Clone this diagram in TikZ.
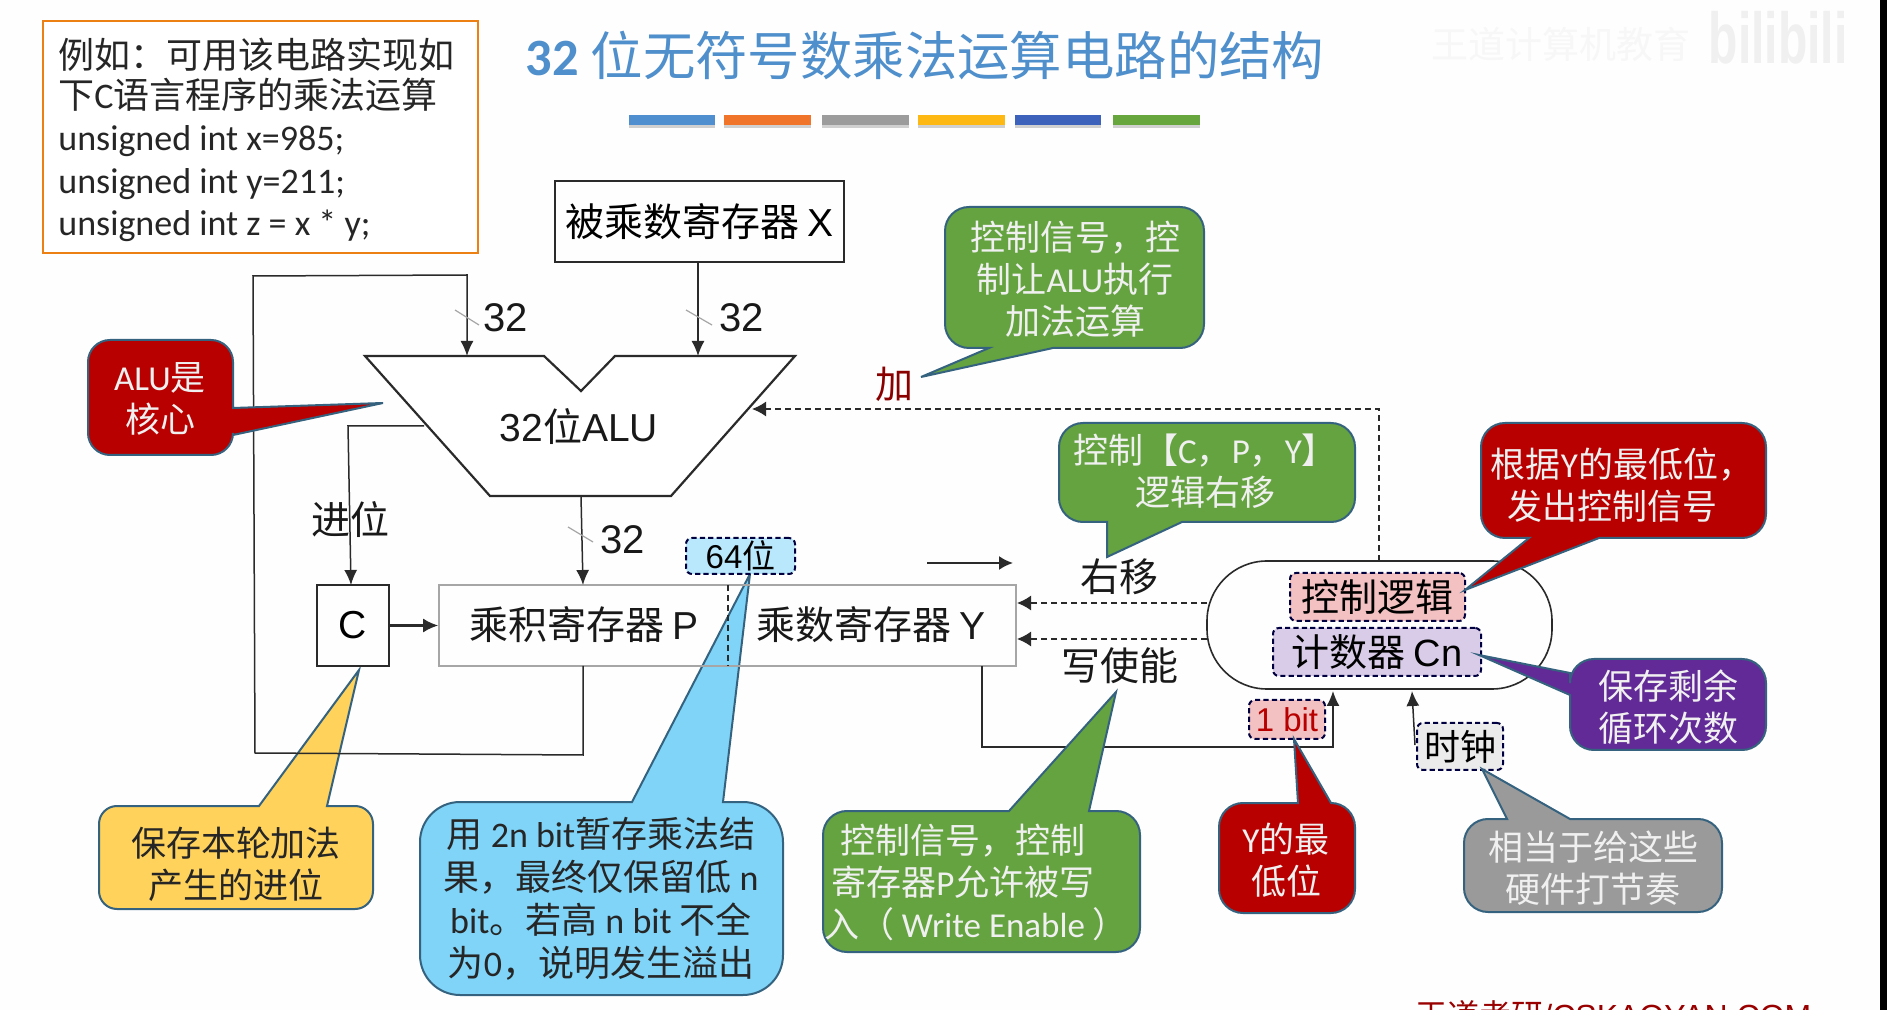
\documentclass[tikz,border=0pt]{standalone}
\usepackage{fontspec}
\setmainfont{Noto Sans CJK SC}
\newfontfamily\latf{Carlito}
\newfontfamily\arif{Liberation Sans}
\newcommand\la[1]{{\latf #1}}
\newcommand\ar[1]{{\arif #1}}
\usetikzlibrary{arrows.meta}
\definecolor{bg}{HTML}{FEFEFE}
\definecolor{tit}{HTML}{4F8FCB}
\definecolor{wine}{HTML}{B80000}
\definecolor{cgreen}{HTML}{64A33F}
\definecolor{cedge}{HTML}{35637F}
\definecolor{cyel}{HTML}{FFD25C}
\definecolor{cblue}{HTML}{7FD4F8}
\definecolor{cpur}{HTML}{612A96}
\definecolor{cgray}{HTML}{9A9A9A}
\definecolor{wire}{HTML}{2A2A2A}
\definecolor{cpink}{HTML}{F3C1C1}
\definecolor{clav}{HTML}{D9CCE8}
\newcommand\boxn[7]{%
  \pgfmathsetmacro\bw{(#4-#2)*.5}\pgfmathsetmacro\bh{(#5-#3)*.5}%
  \node[#6,minimum width=\bw pt,minimum height=\bh pt,inner sep=0pt] (#1) at ({(#2+#4)/2},{(#3+#5)/2}) {#7};}
% callout: style (x1,y1,x2,y2) top right bottom left ; the four inserts are pointer vertices
\def\crad{24}
\def\callout#1(#2,#3,#4,#5)#6#7#8#9{%
  \pgfmathsetmacro\xa{#2+\crad}\pgfmathsetmacro\xb{#4-\crad}%
  \pgfmathsetmacro\ya{#3+\crad}\pgfmathsetmacro\yb{#5-\crad}%
  \path[#1] (\xa,#3) #6 -- (\xb,#3) arc[start angle=-90,delta angle=90,radius=\crad]
    #7 -- (#4,\yb) arc[start angle=0,delta angle=90,radius=\crad]
    #8 -- (\xa,#5) arc[start angle=90,delta angle=90,radius=\crad]
    #9 -- (#2,\ya) arc[start angle=180,delta angle=90,radius=\crad] -- cycle;}
\tikzset{
  call/.style={draw=cedge,line width=1pt,line join=miter},
  wl/.style={draw=wire,line width=.75pt},
  arr/.style={wl,-{Latex[length=7.5pt,width=6.5pt]}},
  darr/.style={draw=wire,line width=.8pt,dash pattern=on 3pt off 2pt,-{Latex[length=7pt,width=7.5pt]}},
  slash/.style={draw=gray!70,line width=.6pt},
  regbox/.style={draw=wire,line width=.8pt},
  dbox/.style={draw=black!75!blue,line width=1pt,dash pattern=on 2.6pt off 1.6pt,rounded corners=3pt,align=center},
  lab/.style={font=\fontsize{19.5}{23}\selectfont,text=black!90,inner sep=0pt,align=center},
  num/.style={font=\arif\fontsize{20}{23}\selectfont,text=black!90,inner sep=0pt},
  ctxt/.style={font=\fontsize{17.5}{21}\selectfont,inner sep=0pt,align=center},
  wtxt/.style={ctxt,text=white!94!black},
  code/.style={font=\fontsize{18}{22}\selectfont,anchor=west,inner sep=0pt,text=black!85},
}
\begin{document}
\begin{tikzpicture}[x=.5pt,y=-.5pt]
\path[use as bounding box] (0,0) rectangle (1887,1010);
\clip (0,0) rectangle (1887,1010);
\fill[bg] (0,0) rectangle (1887,1010);
\fill[black] (1880,0) rectangle (1887,1010);
% watermark
\node[font=\fontsize{18.5}{22}\selectfont,text=black!3,inner sep=0pt] (wm) at (1561,44) {王道计算机教育};
\node[font=\arif\bfseries\fontsize{24}{26}\selectfont,text=black!6,inner sep=0pt,yscale=1.5] (bili) at (1778,38) {bilibili};
% title
\node[font=\fontsize{26.2}{30}\selectfont,text=tit,inner sep=0pt] (title) at (925,56) {\la{\bfseries 32} 位无符号数乘法运算电路的结构};
% colour bars
\foreach \nm/\xa/\xb/\cc in {b1/629/715/4F8FD0,b2/724/811/F0752A,b3/822/909/9C9C9C,b4/918/1005/FDB813,b5/1015/1101/3C62BC,b6/1113/1200/67A63C}{
  \definecolor{tmpc}{HTML}{\cc}
  \fill[black,opacity=.18] (\xa,118) rectangle (\xb,128);
  \fill[tmpc] (\xa,115) rectangle (\xb,125);
}
% orange note
\boxn{note}{43}{21}{478}{253}{draw=orange!70!brown,line width=1pt,fill=white}{}
\node[code] (n1) at (58,55) {例如：可用该电路实现如};
\node[code] (n2) at (58,95) {下\la{C}语言程序的乘法运算};
\node[code] (n3) at (58,141) {\latf unsigned int x=985;};
\node[code] (n4) at (58,184) {\latf unsigned int y=211;};
\node[code] (n5) at (58,226) {\latf unsigned int z = x * y;};
% callouts behind the wires
\def\crad{18}
\callout{call,fill=cyel}(99,806,373,909){-- (259,806) -- (359,670) -- (327,806)}{}{}{}
\node[ctxt,text=black!85] (cy) at (236,864) {保存本轮加法\\产生的进位};
\def\crad{40}
\callout{call,fill=cblue}(420,802,783,995){-- (632,802) -- (750,574) -- (723,802)}{}{}{}
\node[ctxt,text=black!85,font=\fontsize{18}{21.5}\selectfont] (cb) at (601,899) {用 \la{2n bit}暂存乘法结\\果，最终仅保留低 \la{n}\\\la{bit}。若高 \la{n bit} 不全\\为\la{0}，说明发生溢出};
% registers
\boxn{xreg}{555}{181}{844}{262}{regbox}{\fontsize{19.5}{23}\selectfont 被乘数寄存器 \ar{X}}
\boxn{creg}{317}{585}{389}{666}{regbox}{\arif\fontsize{19.5}{23}\selectfont C}
\boxn{pyreg}{439}{585}{1016}{666}{draw=black!35,line width=.8pt}{}
\node[lab] (plab) at (584,625) {乘积寄存器 \ar{P}};
\node[lab] (ylab) at (871,625) {乘数寄存器 \ar{Y}};
\coordinate (divT) at (728,585); \coordinate (divB) at (728,666);
\draw[wire,line width=.7pt,dash pattern=on 3pt off 2pt] (divT) -- (divB);
% ALU
\coordinate (aluA) at (365,356); \coordinate (aluB) at (544,356); \coordinate (aluN) at (581,391);
\coordinate (aluC) at (615,356); \coordinate (aluD) at (795,356); \coordinate (aluE) at (671,496); \coordinate (aluF) at (490,496);
\draw[wire,line width=1.1pt,fill=white,line join=miter] (aluA) -- (aluB) -- (aluN) -- (aluC) -- (aluD) -- (aluE) -- (aluF) -- cycle;
\node[lab] (alu) at (579,427) {\ar{32}位\ar{ALU}};
% wires
\coordinate (aIn1) at (467,356); \coordinate (aIn2) at (698,356);
\coordinate (pOut) at (583,666); \coordinate (l1) at (583,755); \coordinate (l2) at (255,753); \coordinate (l3) at (253,276); \coordinate (l4) at (467,275);
\draw[arr] (pOut) -- (l1) -- (l2) -- (l3) -- (l4) -- (aIn1);
\draw[arr] (xreg.south -| aIn2) -- (aIn2);
\coordinate (aOutC) at (424,426); \coordinate (c1) at (348,426); \coordinate (cIn) at (351,585);
\draw[arr] (aOutC) -- (c1) -- (cIn);
\draw[draw=wire,line width=1.1pt,-{Latex[length=7.5pt,width=7pt]}] (creg.east) -- (pyreg.west);
\coordinate (aOut) at (581,496); \coordinate (pIn) at (583,585);
\draw[arr] (aOut) -- (pIn);
\foreach \nm/\xa/\ya/\xb/\yb in {s1/455/310/479/325,s2/686/310/712/325,s3/568/527/593/542}{\draw[slash] (\xa,\ya) -- (\xb,\yb);}
\node[num] (w1) at (506,318) {32};
\node[num] (w2) at (742,318) {32};
\node[num] (w3) at (623,540) {32};
\node[lab] (carry) at (350,520) {进位};
\boxn{b64}{686}{538}{795}{574}{dbox,fill=cblue!55}{\fontsize{16.5}{20}\selectfont \ar{64}位}
% control capsule
\boxn{ctl}{1207}{561}{1552}{689}{draw=wire,line width=.8pt,rounded corners=30pt}{}
\boxn{logic}{1290}{573}{1465}{621}{dbox,fill=cpink}{\fontsize{19}{23}\selectfont 控制逻辑}
\boxn{cnt}{1273}{628}{1481}{676}{dbox,fill=clav}{\fontsize{19}{23}\selectfont 计数器 \ar{Cn}}
\boxn{bit1}{1249}{700}{1325}{739}{dbox,fill=cpink,text=wine}{\fontsize{16.5}{20}\selectfont \ar{1 bit}}
\boxn{clk}{1417}{723}{1503}{770}{dbox,fill=black!8}{\fontsize{18}{22}\selectfont 时钟}
\coordinate (ctl1) at (1207,603); \coordinate (ctl2) at (1207,639);
\coordinate (py1) at (1017,603); \coordinate (py2) at (1017,639);
\draw[darr] (ctl1) -- (py1);
\draw[darr] (ctl2) -- (py2);
\coordinate (ctlTop) at (1379,561); \coordinate (t1) at (1379,409); \coordinate (aluR) at (752,409);
\draw[darr] (ctlTop) -- (t1) -- (aluR);
\coordinate (yOut) at (982,666); \coordinate (y1) at (982,747); \coordinate (y2) at (1333,747); \coordinate (ctlB1) at (1333,691);
\draw[arr] (yOut) -- (y1) -- (y2) -- (ctlB1);
\coordinate (ctlB2) at (1412,691); \coordinate (clkL) at (1415,745);
\draw[arr] (clkL) -- (ctlB2);
\coordinate (ra1) at (927,563); \coordinate (ra2) at (1013,563);
\draw[draw=wire,line width=1pt,-{Latex[length=7pt,width=7pt]}] (ra1) -- (ra2);
\node[lab] (rs) at (1119,577) {右移};
\node[lab] (we) at (1120,666) {写使能};
\node[font=\fontsize{19}{23}\selectfont,text=wine!75!black,inner sep=0pt] (add) at (894,384) {加};
% callouts in front
\def\crad{22}
\callout{call,fill=wine}(88,340,233,455){}{-- (233,408) -- (383,403) -- (233,435)}{}{}
\node[wtxt] (ca) at (160,399) {\la{ALU}是\\核心};
\def\crad{24}
\callout{call,fill=cgreen}(945,207,1204,348){}{}{-- (1053,348) -- (921,377) -- (989,348)}{}
\node[wtxt] (cg1) at (1075,279) {控制信号，控\\制让\la{ALU}执行\\加法运算};
\callout{call,fill=cgreen}(1059,423,1355,522){}{}{-- (1182,522) -- (1107,557) -- (1107,522)}{}
\node[wtxt] (cg2) at (1205,471) {控制【\la{C}，\la{P}，\la{Y}】\\逻辑右移};
\callout{call,fill=wine}(1481,423,1766,538){}{}{-- (1599,538) -- (1465,590) -- (1529,538)}{}
\node[wtxt] (cr2) at (1612,485) {\hspace*{10pt}根据\la{Y}的最低位，\\发出控制信号};
\callout{call,fill=cpur}(1570,659,1766,750){}{}{}{-- (1570,695) -- (1479,655) -- (1570,673)}
\node[wtxt] (cp) at (1668,707) {保存剩余\\循环次数};
\callout{call,fill=wine}(1219,803,1355,913){-- (1298,803) -- (1294,739) -- (1331,803)}{}{}{}
\node[wtxt] (cr3) at (1286,860) {\la{Y}的最\\低位};
\callout{call,fill=cgray}(1464,819,1722,912){-- (1507,819) -- (1482,769) -- (1570,819)}{}{}{}
\node[wtxt] (cgr) at (1593,868) {相当于给这些\\硬件打节奏};
\callout{call,fill=cgreen}(823,811,1140,952){-- (1009,811) -- (1116,692) -- (1089,811)}{}{}{}
\node[wtxt] (cg3) at (963,861) {控制信号，控制\\寄存器\la{P}允许被写};
\node[wtxt] (cg3b) at (976,924) {入（ \la{Write Enable} ）};
% bottom strip
\node[font=\arif\fontsize{16}{18}\selectfont,text=red!60!black,inner sep=0pt,anchor=west] (foot) at (1415,1015) {{\rmfamily 王道考研}/CSKAOYAN.COM};
\end{tikzpicture}
\end{document}
